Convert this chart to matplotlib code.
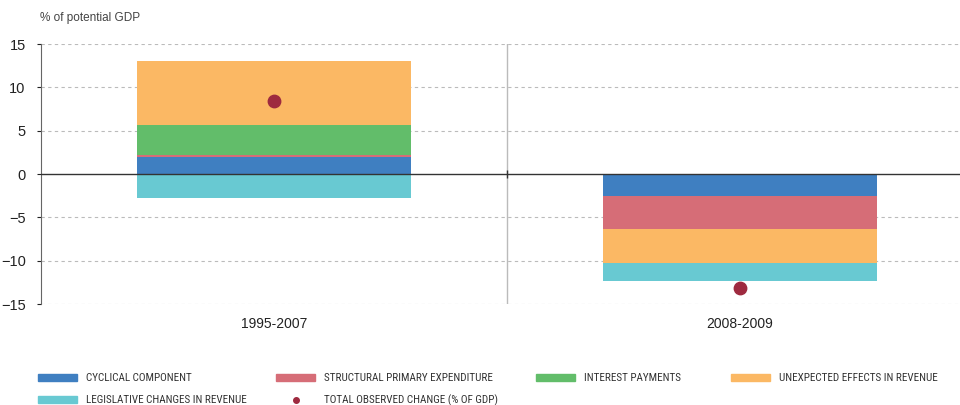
import matplotlib
matplotlib.use("Agg")
import matplotlib.pyplot as plt
from matplotlib.patches import Patch
from matplotlib.lines import Line2D
from matplotlib import font_manager

periods = ["1995-2007", "2008-2009"]
cyclical = [2.0, -2.5]
structural = [0.2, -3.85]
interest = [3.45, 0.0]
unexpected = [7.35, -3.95]
legislative = [-2.8, -2.05]
total_change = [8.4, -13.1]

series = [
    ("CYCLICAL COMPONENT", cyclical, "#3f7fc1"),
    ("STRUCTURAL PRIMARY EXPENDITURE", structural, "#d66d77"),
    ("INTEREST PAYMENTS", interest, "#62bd6a"),
    ("UNEXPECTED EFFECTS IN REVENUE", unexpected, "#fbb864"),
    ("LEGISLATIVE CHANGES IN REVENUE", legislative, "#68c9d2"),
]
dot_color = "#9e2a3f"

# look for a condensed face for the legend, else fall back to Liberation Sans
legend_prop = {"family": "Liberation Sans", "size": 7}
for f in font_manager.fontManager.ttflist:
    if f.name in ("Liberation Sans Narrow", "Roboto Condensed", "Noto Sans",
                  "Open Sans", "Noto Sans Display") and f.stretch in (
            "condensed", "semi-condensed", "extra-condensed", 400, 300):
        legend_prop = {"family": f.name, "stretch": "condensed", "size": 8}
        break
    if f.name in ("Liberation Sans Narrow", "Roboto Condensed"):
        legend_prop = {"family": f.name, "size": 8}
        break

plt.rcParams["font.family"] = ["Liberation Sans", "DejaVu Sans"]

fig = plt.figure(figsize=(9.6, 4.05), dpi=100)
ax = fig.add_axes([41 / 960, 1 - 304 / 405, 932 / 960, 260 / 405])

x = list(range(len(periods)))
pos_base = [0.0] * len(periods)
neg_base = [0.0] * len(periods)
for label, vals, color in series:
    for i, v in enumerate(vals):
        if v >= 0:
            ax.bar(x[i], v, bottom=pos_base[i], width=0.586, color=color, zorder=2)
            pos_base[i] += v
        else:
            ax.bar(x[i], v, bottom=neg_base[i], width=0.586, color=color, zorder=2)
            neg_base[i] += v

ax.scatter(x, total_change, s=80, color=dot_color, zorder=4)

ax.set_xlim(-0.5, 1.5)
ax.set_ylim(-15, 15)
ax.set_yticks([-15, -10, -5, 0, 5, 10, 15])
ax.set_xticks(x)
ax.set_xticklabels(periods, fontsize=10, color="#222222")
ax.tick_params(axis="x", length=0, pad=9)
ax.tick_params(axis="y", length=3, labelsize=10.5, colors="#222222", pad=8)

for yv in [-15, -10, -5, 5, 10, 15]:
    ax.axhline(yv, color="#bbbbbb", lw=0.8, ls=(0, (3, 3)), zorder=1)
ax.axhline(0, color="#333333", lw=1.0, zorder=3)
ax.axvline(0.5, color="#bbbbbb", lw=1.0, zorder=1)
ax.plot([0.5], [0], marker="|", color="#333333", markersize=6, zorder=3)

for s in ["top", "right", "bottom"]:
    ax.spines[s].set_visible(False)
ax.spines["left"].set_color("#666666")

fig.text(40 / 960, 1 - 18 / 405, "% of potential GDP", fontsize=8.5,
         color="#444444", va="center", ha="left")

handles = [Patch(color=c) for _, _, c in series]
handles.append(Line2D([], [], ls="none", marker="o", markersize=4, color=dot_color))
labels = [s[0] for s in series] + ["TOTAL OBSERVED CHANGE (% OF GDP)"]

fs_px = legend_prop["size"] * 100 / 72
columns = [([0, 4], 38), ([1, 5], 276), ([2], 536), ([3], 731)]
for idx, xpx in columns:
    fig.legend([handles[i] for i in idx], [labels[i] for i in idx],
               loc="upper left", bbox_to_anchor=(xpx / 960, 1 - 373 / 405),
               frameon=False, borderaxespad=0, borderpad=0,
               handlelength=39 / fs_px, handleheight=6.5 / fs_px,
               handletextpad=9 / fs_px, labelspacing=12 / fs_px,
               prop=legend_prop, labelcolor="#333333")

fig.savefig("out.png", dpi=100)
